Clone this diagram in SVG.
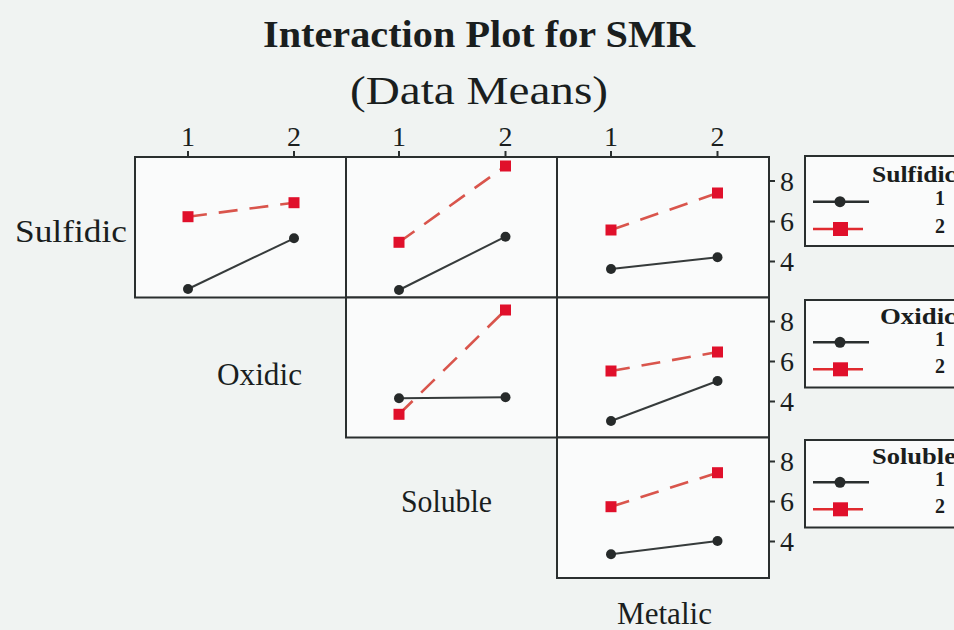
<svg xmlns="http://www.w3.org/2000/svg" width="954" height="630" viewBox="0 0 954 630">
  <defs>
    <style>
      .serif { font-family: "Liberation Serif", "Times New Roman", serif; fill: #1a1e1e; }
      .title { font-size: 37px; font-weight: bold; }
      .sub { font-size: 41px; }
      .lab { font-size: 31px; }
      .tick { font-size: 28px; }
      .legt { font-size: 23px; font-weight: bold; }
      .legn { font-size: 20px; font-weight: bold; }
      .panel { fill: #fafbfb; stroke: #2a2f2f; stroke-width: 2; }
      .legbox { fill: #fafbfb; stroke: #2a2f2f; stroke-width: 2; }
      .tk { stroke: #2a2f2f; stroke-width: 2; }
      .s1 { stroke: #363b3b; stroke-width: 2; fill: none; }
      .s2 { stroke: #d9554c; stroke-width: 2.6; fill: none; stroke-dasharray: 19 12; }
      .s2leg { stroke: #e02a2f; stroke-width: 2.4; fill: none; }
      .s1leg { stroke: #2a2f2f; stroke-width: 2.6; fill: none; }
      .dot { fill: #262a2a; }
      .sq { fill: #e0102b; }
    </style>
    <circle id="m1" r="5" class="dot"/>
    <rect id="m2" x="-5.5" y="-5.5" width="11" height="11" class="sq"/>
  </defs>

  <!-- background -->
  <rect x="0" y="0" width="954" height="630" fill="#f0f3f2"/>

  <!-- titles -->
  <g id="title">
    <text class="serif title" x="263" y="47" textLength="432" lengthAdjust="spacingAndGlyphs">Interaction Plot for SMR</text>
    <text class="serif sub" x="350" y="104" textLength="258" lengthAdjust="spacingAndGlyphs">(Data Means)</text>
  </g>

  <!-- panel frames -->
  <g id="panels">
    <rect class="panel" x="135" y="157" width="211" height="140.5"/>
    <rect class="panel" x="346" y="157" width="211" height="140.5"/>
    <rect class="panel" x="557" y="157" width="212" height="140.5"/>
    <rect class="panel" x="346" y="297.5" width="211" height="140"/>
    <rect class="panel" x="557" y="297.5" width="212" height="140"/>
    <rect class="panel" x="557" y="437.5" width="212" height="140.5"/>
  </g>

  <!-- top axis: level ticks -->
  <g id="top-axis">
    <line class="tk" x1="188" y1="157" x2="188" y2="151"/>
    <line class="tk" x1="294" y1="157" x2="294" y2="151"/>
    <line class="tk" x1="399" y1="157" x2="399" y2="151"/>
    <line class="tk" x1="505.5" y1="157" x2="505.5" y2="151"/>
    <line class="tk" x1="611" y1="157" x2="611" y2="151"/>
    <line class="tk" x1="717.5" y1="157" x2="717.5" y2="151"/>
    <text class="serif tick" x="188" y="146" text-anchor="middle">1</text>
    <text class="serif tick" x="294" y="146" text-anchor="middle">2</text>
    <text class="serif tick" x="399" y="146" text-anchor="middle">1</text>
    <text class="serif tick" x="505.5" y="146" text-anchor="middle">2</text>
    <text class="serif tick" x="611" y="146" text-anchor="middle">1</text>
    <text class="serif tick" x="717.5" y="146" text-anchor="middle">2</text>
  </g>

  <!-- right axis: mean values -->
  <g id="right-axis">
    <line class="tk" x1="769" y1="181" x2="775" y2="181"/>
    <line class="tk" x1="769" y1="221.5" x2="775" y2="221.5"/>
    <line class="tk" x1="769" y1="261.5" x2="775" y2="261.5"/>
    <text class="serif tick" x="780" y="190.5">8</text>
    <text class="serif tick" x="780" y="231">6</text>
    <text class="serif tick" x="780" y="271">4</text>

    <line class="tk" x1="769" y1="321.5" x2="775" y2="321.5"/>
    <line class="tk" x1="769" y1="361.5" x2="775" y2="361.5"/>
    <line class="tk" x1="769" y1="401.5" x2="775" y2="401.5"/>
    <text class="serif tick" x="780" y="331">8</text>
    <text class="serif tick" x="780" y="371">6</text>
    <text class="serif tick" x="780" y="411">4</text>

    <line class="tk" x1="769" y1="461.5" x2="775" y2="461.5"/>
    <line class="tk" x1="769" y1="501.5" x2="775" y2="501.5"/>
    <line class="tk" x1="769" y1="541.5" x2="775" y2="541.5"/>
    <text class="serif tick" x="780" y="471">8</text>
    <text class="serif tick" x="780" y="511">6</text>
    <text class="serif tick" x="780" y="551">4</text>
  </g>

  <!-- factor labels on the diagonal -->
  <g id="labels">
    <text class="serif lab" x="15" y="242" textLength="112" lengthAdjust="spacingAndGlyphs">Sulfidic</text>
    <text class="serif lab" x="217" y="385" textLength="85" lengthAdjust="spacingAndGlyphs">Oxidic</text>
    <text class="serif lab" x="401" y="511.5" textLength="91" lengthAdjust="spacingAndGlyphs">Soluble</text>
    <text class="serif lab" x="617" y="624" textLength="95" lengthAdjust="spacingAndGlyphs">Metalic</text>
  </g>

  <!-- interaction lines -->
  <g id="connectors">
    <!-- Sulfidic x Oxidic -->
    <line class="s1" x1="188" y1="289" x2="294" y2="238.3"/>
    <line class="s2" x1="188" y1="216.7" x2="294" y2="202.7"/>
    <!-- Sulfidic x Soluble -->
    <line class="s1" x1="399" y1="290" x2="505.5" y2="236.7"/>
    <line class="s2" x1="399" y1="242.3" x2="505.5" y2="166"/>
    <!-- Sulfidic x Metalic -->
    <line class="s1" x1="611" y1="269" x2="717.5" y2="257.3"/>
    <line class="s2" x1="611" y1="230" x2="717.5" y2="193"/>
    <!-- Oxidic x Soluble -->
    <line class="s1" x1="399" y1="398.3" x2="505.5" y2="397.3"/>
    <line class="s2" x1="399" y1="414.3" x2="505.5" y2="310"/>
    <!-- Oxidic x Metalic -->
    <line class="s1" x1="611" y1="421" x2="717.5" y2="381"/>
    <line class="s2" x1="611" y1="371" x2="717.5" y2="352"/>
    <!-- Soluble x Metalic -->
    <line class="s1" x1="611" y1="554.3" x2="717.5" y2="541"/>
    <line class="s2" x1="611" y1="506.7" x2="717.5" y2="472.7"/>
  </g>

  <!-- data means -->
  <g id="points">
    <use href="#m1" x="188" y="289"/><use href="#m1" x="294" y="238.3"/>
    <use href="#m2" x="188" y="216.7"/><use href="#m2" x="294" y="202.7"/>
    <use href="#m1" x="399" y="290"/><use href="#m1" x="505.5" y="236.7"/>
    <use href="#m2" x="399" y="242.3"/><use href="#m2" x="505.5" y="166"/>
    <use href="#m1" x="611" y="269"/><use href="#m1" x="717.5" y="257.3"/>
    <use href="#m2" x="611" y="230"/><use href="#m2" x="717.5" y="193"/>
    <use href="#m1" x="399" y="398.3"/><use href="#m1" x="505.5" y="397.3"/>
    <use href="#m2" x="399" y="414.3"/><use href="#m2" x="505.5" y="310"/>
    <use href="#m1" x="611" y="421"/><use href="#m1" x="717.5" y="381"/>
    <use href="#m2" x="611" y="371"/><use href="#m2" x="717.5" y="352"/>
    <use href="#m1" x="611" y="554.3"/><use href="#m1" x="717.5" y="541"/>
    <use href="#m2" x="611" y="506.7"/><use href="#m2" x="717.5" y="472.7"/>
  </g>

  <!-- legends -->
  <g id="legend-sulfidic">
    <rect class="legbox" x="805" y="156" width="160" height="90"/>
    <text class="serif legt" x="872" y="182" textLength="84" lengthAdjust="spacingAndGlyphs">Sulfidic</text>
    <line class="s1leg" x1="813" y1="201.7" x2="869" y2="201.7"/>
    <circle cx="840" cy="201.7" r="5.5" class="dot"/>
    <text class="serif legn" x="940" y="205" text-anchor="middle">1</text>
    <line class="s2leg" x1="813" y1="229" x2="863" y2="229"/>
    <rect x="833" y="222" width="15" height="14" class="sq"/>
    <text class="serif legn" x="940" y="232.5" text-anchor="middle">2</text>
  </g>
  <g id="legend-oxidic">
    <rect class="legbox" x="805" y="300" width="160" height="87.5"/>
    <text class="serif legt" x="880" y="323.5" textLength="76" lengthAdjust="spacingAndGlyphs">Oxidic</text>
    <line class="s1leg" x1="813" y1="342.3" x2="869" y2="342.3"/>
    <circle cx="840" cy="342.3" r="5.5" class="dot"/>
    <text class="serif legn" x="940" y="346" text-anchor="middle">1</text>
    <line class="s2leg" x1="813" y1="369.3" x2="863" y2="369.3"/>
    <rect x="833" y="362.3" width="15" height="14" class="sq"/>
    <text class="serif legn" x="940" y="373" text-anchor="middle">2</text>
  </g>
  <g id="legend-soluble">
    <rect class="legbox" x="805" y="440" width="160" height="87.5"/>
    <text class="serif legt" x="872" y="463.5" textLength="84" lengthAdjust="spacingAndGlyphs">Soluble</text>
    <line class="s1leg" x1="813" y1="482.3" x2="869" y2="482.3"/>
    <circle cx="840" cy="482.3" r="5.5" class="dot"/>
    <text class="serif legn" x="940" y="486" text-anchor="middle">1</text>
    <line class="s2leg" x1="813" y1="509.3" x2="863" y2="509.3"/>
    <rect x="833" y="502.3" width="15" height="14" class="sq"/>
    <text class="serif legn" x="940" y="513" text-anchor="middle">2</text>
  </g>
</svg>
